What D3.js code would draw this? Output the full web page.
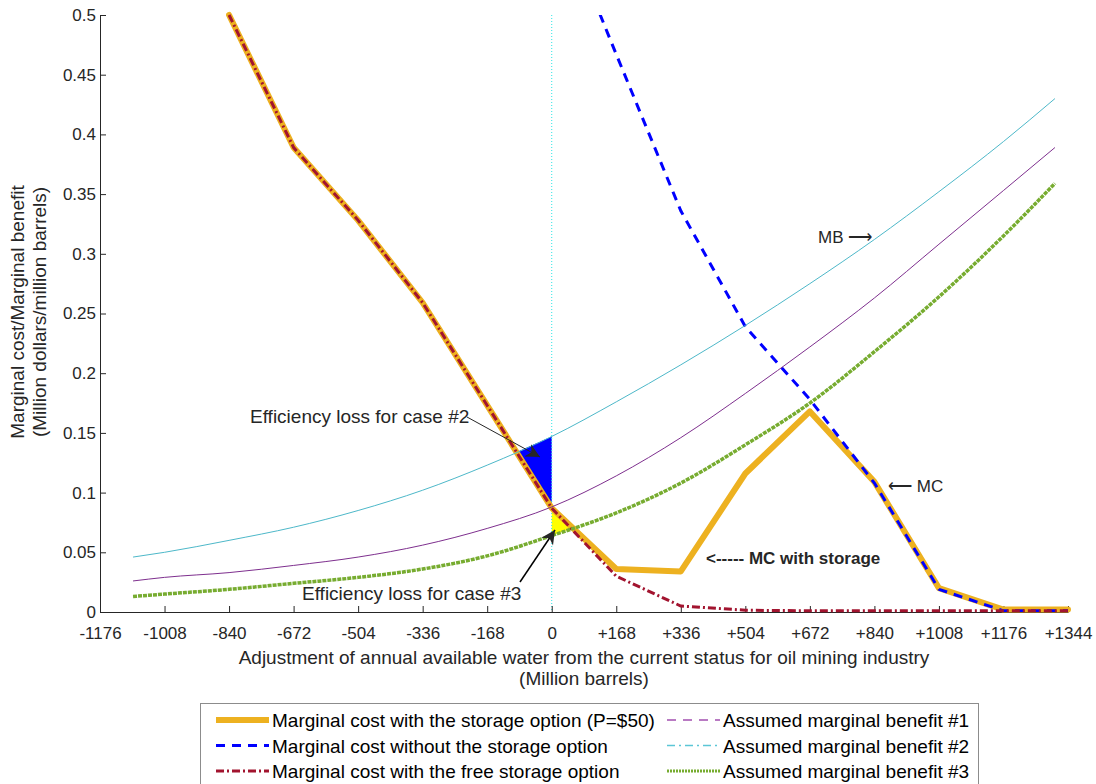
<!DOCTYPE html>
<html>
<head>
<meta charset="utf-8">
<script src="https://cdn.jsdelivr.net/npm/d3@7"></script>
<style>
  body { margin: 0; background: #fff; }
  svg { font-family: "Liberation Sans", Arial, sans-serif; }
</style>
</head>
<body>
<div class="chart"></div>
<script>
// x positions of the cost curves (million barrels)
const mcX = [-840, -672, -504, -336, -168, 0, 168, 336, 504, 672, 840, 1008, 1176, 1344];
const mcStorage = [0.5, 0.389, 0.328, 0.259, 0.173, 0.087, 0.036, 0.034, 0.116, 0.168, 0.109, 0.020, 0.002, 0.002];
const mcFree = [0.5, 0.389, 0.328, 0.259, 0.173, 0.087, 0.030, 0.005, 0.0015, 0.001, 0.001, 0.001, 0.001, 0.001];

const mcNoX = [0, 168, 336, 504, 672, 840, 1008, 1176, 1344];
const mcNoStorage = [0.6, 0.467, 0.336, 0.239, 0.178, 0.108, 0.019, 0.001, 0.001];

// assumed marginal benefit curves
const mbX = [-1090, -1008, -840, -672, -504, -336, -168, 0, 168, 336, 504, 672, 840, 1008, 1176, 1310];
const mb1 = [0.026, 0.029, 0.033, 0.039, 0.046, 0.056, 0.070, 0.088, 0.114, 0.146, 0.183, 0.222, 0.263, 0.308, 0.353, 0.389];
const mb2 = [0.046, 0.050, 0.060, 0.071, 0.085, 0.102, 0.123, 0.147, 0.176, 0.207, 0.240, 0.275, 0.312, 0.352, 0.394, 0.430];
const mb3 = [0.013, 0.015, 0.019, 0.024, 0.029, 0.036, 0.047, 0.064, 0.083, 0.108, 0.140, 0.175, 0.218, 0.264, 0.315, 0.359];

const xTicks = [-1176, -1008, -840, -672, -504, -336, -168, 0, 168, 336, 504, 672, 840, 1008, 1176, 1344];
const yTicks = [0, 0.05, 0.1, 0.15, 0.2, 0.25, 0.3, 0.35, 0.4, 0.45, 0.5];

const legendItems = [
  {label: "Marginal cost with the storage option (P=$50)", color: "#edb120", w: 6, dash: null, col: 0, row: 0},
  {label: "Marginal cost without the storage option", color: "#0000ff", w: 3, dash: "9,7", col: 0, row: 1},
  {label: "Marginal cost with the free storage option", color: "#a2142f", w: 3, dash: "8,3,2,3", col: 0, row: 2},
  {label: "Assumed marginal benefit #1", color: "#a24fb0", w: 1.3, dash: "9,7", col: 1, row: 0},
  {label: "Assumed marginal benefit #2", color: "#5cc6d6", w: 1.5, dash: "8,4,2,4", col: 1, row: 1},
  {label: "Assumed marginal benefit #3", color: "#77ac30", w: 3, dash: "2,1", col: 1, row: 2}
];

const W = 1096, H = 784;
const pLeft = 100, pRight = 1068, pTop = 15, pBottom = 612;

const svg = d3.select('.chart').append('svg')
  .attr('width', W).attr('height', H);

const x = d3.scaleLinear().domain([-1176, 1344]).range([pLeft, pRight]);
const y = d3.scaleLinear().domain([0, 0.5]).range([pBottom, pTop]);

const defs = svg.append("defs");
defs.append("clipPath").attr("id", "plotclip")
  .append("rect").attr("x", pLeft).attr("y", pTop).attr("width", pRight - pLeft).attr("height", pBottom - pTop);
defs.append("marker").attr("id", "head").attr("viewBox", "0 0 10 10")
  .attr("refX", 10).attr("refY", 5)
  .attr("markerUnits", "userSpaceOnUse").attr("orient", "auto")
  .attr("markerWidth", 18).attr("markerHeight", 14)
  .append("path").attr("d", "M0,0L10,5L0,10L3,5Z").attr("fill", "#262626");

// linear interpolation helper on a series
function at(xs, ys, v) {
  for (let i = 0; i < xs.length - 1; i++) {
    if (v >= xs[i] && v <= xs[i + 1]) {
      const t = (v - xs[i]) / (xs[i + 1] - xs[i]);
      return ys[i] + t * (ys[i + 1] - ys[i]);
    }
  }
  return NaN;
}
function crossing(f, a, b) {
  for (let k = 0; k < 60; k++) {
    const m = (a + b) / 2;
    if (Math.sign(f(m)) === Math.sign(f(a))) a = m; else b = m;
  }
  return (a + b) / 2;
}

// efficiency loss areas
const x2 = crossing(v => at(mbX, mb2, v) - at(mcX, mcFree, v), -336, 0);
const poly2 = [];
d3.range(x2, 0, 2).concat([0]).forEach(v => poly2.push([v, at(mbX, mb2, v)]));
d3.range(0, x2, -2).concat([x2]).forEach(v => poly2.push([v, at(mcX, mcFree, v)]));

const x3 = crossing(v => at(mbX, mb3, v) - at(mcX, mcStorage, v), 0, 168);
const poly3 = [];
d3.range(0, x3, 1).concat([x3]).forEach(v => poly3.push([v, at(mcX, mcStorage, v)]));
d3.range(x3, 0, -1).concat([0]).forEach(v => poly3.push([v, at(mbX, mb3, v)]));

const area = d3.line().x(d => x(d[0])).y(d => y(d[1]));
svg.append("path").attr("d", area(poly2) + "Z").attr("fill", "#0000ff");
svg.append("path").attr("d", area(poly3) + "Z").attr("fill", "#ffff00");

// zero line
svg.append("line")
  .attr("x1", x(0)).attr("x2", x(0)).attr("y1", pTop).attr("y2", pBottom)
  .attr("stroke", "#2ee6e6").attr("stroke-width", 1).attr("stroke-dasharray", "1,2");

// axes
const xAxis = d3.axisBottom(x).tickValues(xTicks).tickSizeInner(-6).tickSizeOuter(0)
  .tickFormat(d => d > 0 ? "+" + d : String(d));
const gx = svg.append("g").attr("transform", `translate(0,${pBottom})`).call(xAxis);
gx.attr("font-family", null);
gx.selectAll("text").attr("y", 15).attr("font-size", 17).attr("fill", "#262626");
gx.selectAll("line").attr("stroke", "#262626");
gx.select(".domain").attr("stroke", "#262626");

const yAxis = d3.axisLeft(y).tickValues(yTicks).tickSizeInner(-6).tickSizeOuter(0)
  .tickFormat(d => String(+d.toFixed(2)));
const gy = svg.append("g").attr("transform", `translate(${pLeft},0)`).call(yAxis);
gy.attr("font-family", null);
gy.selectAll("text").attr("x", -4).attr("font-size", 17).attr("fill", "#262626");
gy.selectAll("line").attr("stroke", "#262626");
gy.select(".domain").attr("stroke", "#262626");

// curves
const line = d3.line().x(d => x(d[0])).y(d => y(d[1]));
const smooth = d3.line().x(d => x(d[0])).y(d => y(d[1])).curve(d3.curveMonotoneX);

svg.append("path").datum(d3.zip(mcX, mcStorage)).attr("d", line)
  .attr("fill", "none").attr("stroke", "#edb120").attr("stroke-width", 6)
  .attr("stroke-linejoin", "round").attr("stroke-linecap", "round");

svg.append("path").datum(d3.zip(mcNoX, mcNoStorage)).attr("d", line)
  .attr("clip-path", "url(#plotclip)")
  .attr("fill", "none").attr("stroke", "#0000ff").attr("stroke-width", 3)
  .attr("stroke-dasharray", "9,7");

svg.append("path").datum(d3.zip(mcX, mcFree)).attr("d", line)
  .attr("fill", "none").attr("stroke", "#a2142f").attr("stroke-width", 3)
  .attr("stroke-dasharray", "8,3,2,3");

svg.append("path").datum(d3.zip(mbX, mb1)).attr("d", smooth)
  .attr("fill", "none").attr("stroke", "#7e2f8e").attr("stroke-width", 1);
svg.append("path").datum(d3.zip(mbX, mb2)).attr("d", smooth)
  .attr("fill", "none").attr("stroke", "#4db8c9").attr("stroke-width", 1);
svg.append("path").datum(d3.zip(mbX, mb3)).attr("d", smooth)
  .attr("fill", "none").attr("stroke", "#77ac30").attr("stroke-width", 3.5)
  .attr("stroke-dasharray", "4,1");

// arrows + annotations
svg.append("line").attr("x1", 467).attr("y1", 417).attr("x2", 540).attr("y2", 457)
  .attr("stroke", "#262626").attr("stroke-width", 1).attr("marker-end", "url(#head)");
svg.append("line").attr("x1", 520).attr("y1", 582).attr("x2", 555).attr("y2", 530)
  .attr("stroke", "#000").attr("stroke-width", 1.5).attr("marker-end", "url(#head)");

const note = (tx, ty, s, fs, bold) => svg.append("text").attr("x", tx).attr("y", ty)
  .attr("font-size", fs).attr("fill", "#262626").attr("font-weight", bold ? "bold" : null).text(s);
note(250, 423, "Efficiency loss for case #2", 19);
note(302, 600, "Efficiency loss for case #3", 19);
note(818, 243, "MB \u27F6", 17);
note(888, 492, "\u27F5 MC", 17);
note(706, 564, "<----- MC with storage", 17, true);

// axis titles
svg.append("text").attr("x", 584).attr("y", 664).attr("text-anchor", "middle")
  .attr("font-size", 19).attr("fill", "#262626")
  .text("Adjustment of annual available water from the current status for oil mining industry");
svg.append("text").attr("x", 584).attr("y", 685).attr("text-anchor", "middle")
  .attr("font-size", 19).attr("fill", "#262626").text("(Million barrels)");

const yl = svg.append("g").attr("transform", "translate(24,312) rotate(-90)");
yl.append("text").attr("text-anchor", "middle").attr("font-size", 19).attr("fill", "#262626")
  .text("Marginal cost/Marginal benefit");
yl.append("text").attr("y", 22).attr("text-anchor", "middle").attr("font-size", 19).attr("fill", "#262626")
  .text("(Million dollars/million barrels)");

// legend
const lg = svg.append("g");
lg.append("rect").attr("x", 200.5).attr("y", 703.5).attr("width", 778).attr("height", 90)
  .attr("fill", "#fff").attr("stroke", "#8c8c8c");
legendItems.forEach(d => {
  const lx = d.col === 0 ? 216 : 667;
  const ly = 720 + d.row * 25.5;
  lg.append("line").attr("x1", lx).attr("x2", lx + 53).attr("y1", ly).attr("y2", ly)
    .attr("stroke", d.color).attr("stroke-width", d.w).attr("stroke-dasharray", d.dash);
  lg.append("text").attr("x", lx + 56).attr("y", ly + 7).attr("font-size", 19)
    .attr("fill", "#000").text(d.label);
});
</script>
</body>
</html>
